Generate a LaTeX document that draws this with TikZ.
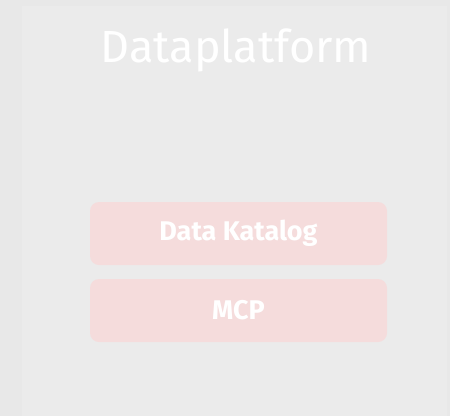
\documentclass[tikz,border=0pt]{standalone}
\usepackage{fontspec}
\setmainfont{Fira Sans}
\definecolor{pagebg}{HTML}{E8E8E8}
\definecolor{panelbg}{HTML}{EBEBEB}
\definecolor{boxpink}{HTML}{F5DCDC}
\begin{document}
\begin{tikzpicture}[x=1pt,y=-1pt,
  layerbox/.style={fill=boxpink,draw=none,rounded corners=9pt,
    minimum width=297pt,minimum height=63pt,inner sep=0pt,
    text=white,font=\fontsize{27}{29}\selectfont\bfseries},
  titletext/.style={text=white,font=\fontsize{45}{50}\selectfont,inner sep=0pt}]
  % page and panel
  \fill[pagebg] (0,0) rectangle (450,416);
  \useasboundingbox (0,0) rectangle (450,416);
  \fill[panelbg] (22,6) rectangle (447,416);
  % title
  \node[titletext,anchor=base] (title) at (236,62) {Dataplatform};
  % layers
  \node[layerbox] (katalog) at (238.5,233.5) {Data Katalog};
  \node[layerbox] (mcp) at (238.5,310.5) {MCP};
\end{tikzpicture}
\end{document}
